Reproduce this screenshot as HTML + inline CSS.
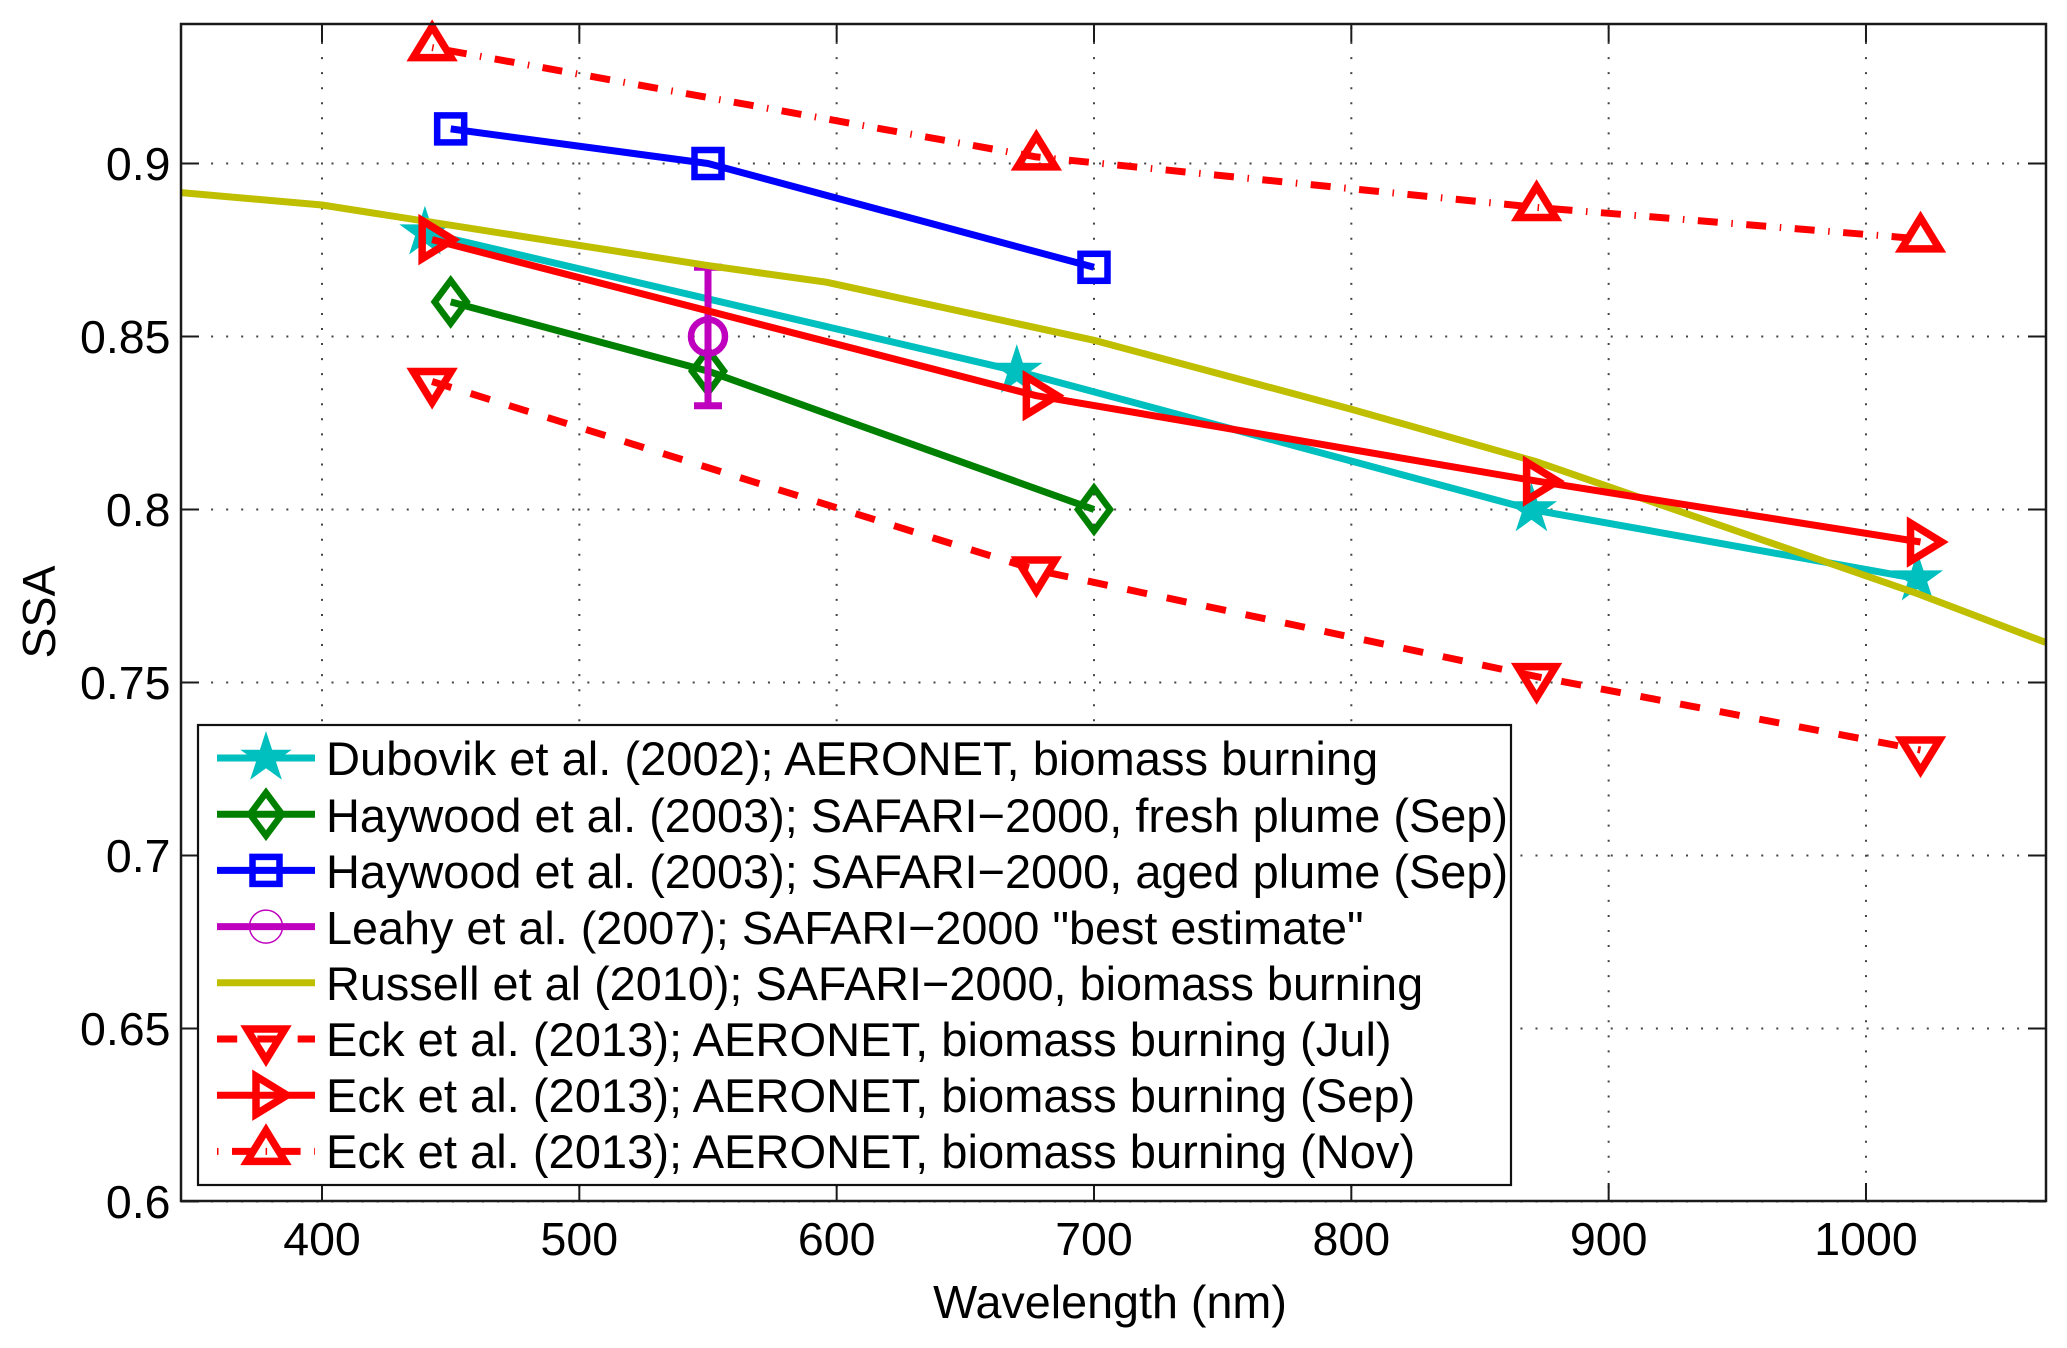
<!DOCTYPE html>
<html>
<head>
<meta charset="utf-8">
<title>SSA vs Wavelength</title>
<style>
html,body{margin:0;padding:0;background:#fff;}
svg{display:block;}
text{font-family:"Liberation Sans",Arial,sans-serif;fill:#000;}
</style>
</head>
<body>
<svg id="chart" xmlns="http://www.w3.org/2000/svg" width="2067" height="1348" viewBox="0 0 2067 1348">
  <rect x="181" y="24" width="1865" height="1177" fill="#fff"/>
  <g id="grid"></g>
  <g id="marks"></g>
  <g id="axes"></g>
  <g id="legend">
    <rect x="198" y="725" width="1313" height="460" fill="#fff" stroke="#111" stroke-width="2.2"/>
    <g>
      <text font-size="47.1" x="326" y="775">Dubovik et al. (2002); AERONET, biomass burning</text>
      <text font-size="46.9" x="326" y="832">Haywood et al. (2003); SAFARI−2000, fresh plume (Sep)</text>
      <text font-size="46.9" x="326" y="888">Haywood et al. (2003); SAFARI−2000, aged plume (Sep)</text>
      <text font-size="46.76" x="326" y="944">Leahy et al. (2007); SAFARI−2000 "best estimate"</text>
      <text font-size="46.83" x="326" y="1000">Russell et al (2010); SAFARI−2000, biomass burning</text>
      <text font-size="47.11" x="326" y="1056">Eck et al. (2013); AERONET, biomass burning (Jul)</text>
      <text font-size="47.11" x="326" y="1112">Eck et al. (2013); AERONET, biomass burning (Sep)</text>
      <text font-size="47.11" x="326" y="1168">Eck et al. (2013); AERONET, biomass burning (Nov)</text>
    </g>
  </g>
  <text x="1110" y="1318" font-size="46.7" text-anchor="middle">Wavelength (nm)</text>
  <text transform="translate(55,612) rotate(-90)" font-size="46.5" text-anchor="middle">SSA</text>
</svg>
<script>
// ---- chart data ----
const xTicks = [400, 500, 600, 700, 800, 900, 1000];
const yTicks = [0.6, 0.65, 0.7, 0.75, 0.8, 0.85, 0.9];
const yTickLabels = ['0.6', '0.65', '0.7', '0.75', '0.8', '0.85', '0.9'];

const dubovikX = [440, 670, 870, 1020];
const dubovikY = [0.88, 0.84, 0.80, 0.78];
const haywoodFreshX = [450, 550, 700];
const haywoodFreshY = [0.86, 0.84, 0.80];
const haywoodAgedX = [450, 550, 700];
const haywoodAgedY = [0.91, 0.90, 0.87];
const leahyX = [550];
const leahyY = [0.85];
const leahyLow = [0.83];
const leahyHigh = [0.87];
const russellX = [345.3, 400, 550, 596, 700, 800, 872, 1020, 1069.8];
const russellY = [0.8916, 0.888, 0.8705, 0.8657, 0.8489, 0.829, 0.8138, 0.7757, 0.7616];
const eckX = [442.8, 677.6, 872, 1021.2];
const eckJulY = [0.837, 0.7825, 0.7517, 0.7305];
const eckSepY = [0.878, 0.8329, 0.8082, 0.7906];
const eckNovY = [0.9335, 0.9019, 0.8873, 0.8782];

// ---- axis functions ----
const plotLeft = 181, plotRight = 2046, plotTop = 24, plotBottom = 1201;
function xScale(w) { return 322 + (w - 400) * 2.5733; }
function yScale(v) { return 163.5 + (0.9 - v) * 3460; }

const NS = 'http://www.w3.org/2000/svg';
function make(tag, attrs, parent) {
  const el = document.createElementNS(NS, tag);
  for (const k in attrs) el.setAttribute(k, attrs[k]);
  parent.appendChild(el);
  return el;
}
const gridG = document.getElementById('grid');
const axesG = document.getElementById('axes');
const marksG = document.getElementById('marks');
const legendG = document.getElementById('legend');

// ---- grid, ticks, labels ----
const AX = '#1a1a1a';
const dotStyle = { stroke: '#444', 'stroke-width': 2, 'stroke-dasharray': '2 13.05', fill: 'none' };
xTicks.forEach(function (t) {
  const x = xScale(t);
  const g = make('line', Object.assign({ x1: x, x2: x, y1: 27, y2: plotBottom }, dotStyle), gridG);
  
  
  const a = make('line', { x1: x, x2: x, y1: plotTop, y2: plotTop + 18, stroke: AX, 'stroke-width': 2 }, axesG);
  
  
  const b = make('line', { x1: x, x2: x, y1: plotBottom, y2: plotBottom - 18, stroke: AX, 'stroke-width': 2 }, axesG);
  
  
  const l = make('text', { x: x, y: 1255, 'font-size': 46.5, 'text-anchor': 'middle' }, axesG);
  l.textContent = String(t);
  
  
});
yTicks.forEach(function (t, i) {
  const y = yScale(t);
  const g = make('line', Object.assign({ x1: plotLeft, x2: plotRight, y1: y, y2: y }, dotStyle), gridG);
  
  
  const a = make('line', { x1: plotLeft, x2: plotLeft + 18, y1: y, y2: y, stroke: AX, 'stroke-width': 2 }, axesG);
  
  
  const b = make('line', { x1: plotRight, x2: plotRight - 18, y1: y, y2: y, stroke: AX, 'stroke-width': 2 }, axesG);
  
  
  const l = make('text', { x: 170.5, y: y + 16.5, 'font-size': 46.5, 'text-anchor': 'end' }, axesG);
  l.textContent = yTickLabels[i];
  
  
});
const frame = make('rect', { x: plotLeft, y: plotTop, width: plotRight - plotLeft, height: plotBottom - plotTop, fill: 'none', stroke: AX, 'stroke-width': 2.5 }, axesG);



// ---- marker drawing ----
function marker(kind, cx, cy, color, parent) {
  const sw = 7.5;
  const base = { fill: 'none', stroke: color, 'stroke-width': sw, 'stroke-miterlimit': 12 };
  if (kind === 'star') {
    const pts = [];
    for (let i = 0; i < 10; i++) {
      const r = i % 2 === 0 ? 27 : 10.3;
      const a = -Math.PI / 2 + i * Math.PI / 5;
      pts.push((cx + r * Math.cos(a)).toFixed(1) + ',' + (cy + r * Math.sin(a)).toFixed(1));
    }
    return make('polygon', { points: pts.join(' '), fill: color, stroke: 'none' }, parent);
  }
  if (kind === 'diamond') {
    return make('polygon', Object.assign({}, base, { 'stroke-width': 6.5, points: [cx, cy - 21.5, cx + 16, cy, cx, cy + 21.5, cx - 16, cy].join(' ') }), parent);
  }
  if (kind === 'square') {
    return make('rect', Object.assign({}, base, { 'stroke-width': 6.5, x: cx - 13.5, y: cy - 13.5, width: 27, height: 27 }), parent);
  }
  if (kind === 'circle') {
    return make('circle', Object.assign({}, base, { 'stroke-width': 6.5, cx: cx, cy: cy, r: 17 }), parent);
  }
  if (kind === 'circle-thin') {
    return make('circle', Object.assign({}, base, { cx: cx, cy: cy, r: 16.5, 'stroke-width': 1.5 }), parent);
  }
  if (kind === 'down') {
    return make('polygon', Object.assign({}, base, { points: [cx - 19, cy - 10, cx + 19, cy - 10, cx, cy + 21].join(' ') }), parent);
  }
  if (kind === 'up') {
    return make('polygon', Object.assign({}, base, { points: [cx - 19, cy + 10, cx + 19, cy + 10, cx, cy - 21].join(' ') }), parent);
  }
  if (kind === 'right') {
    return make('polygon', Object.assign({}, base, { points: [cx - 10, cy - 19, cx - 10, cy + 19, cx + 21, cy].join(' ') }), parent);
  }
  return null;
}

// ---- series ----
const DASH_JUL = '20.2 20.13';
const DASH_NOV = '1.5 13.5 20 13.6';

function drawSeries(key, xs, ys, color, kind, dash) {
  const pts = xs.map(function (w, i) { return xScale(w).toFixed(1) + ',' + yScale(ys[i]).toFixed(1); }).join(' ');
  const attrs = { points: pts, fill: 'none', stroke: color, 'stroke-width': 7, 'stroke-linejoin': 'round' };
  if (dash) attrs['stroke-dasharray'] = dash;
  const line = make('polyline', attrs, marksG);
  
  
  if (!kind) return;
  xs.forEach(function (w, i) {
    const m = marker(kind, xScale(w), yScale(ys[i]), color, marksG);
    
    
  });
}

drawSeries('dubovik', dubovikX, dubovikY, '#00BFBF', 'star');
drawSeries('haywood-fresh', haywoodFreshX, haywoodFreshY, '#008000', 'diamond');
drawSeries('haywood-aged', haywoodAgedX, haywoodAgedY, '#0000FF', 'square');

// Leahy error bar
leahyX.forEach(function (w, i) {
  const x = xScale(w);
  const stem = make('line', { x1: x, x2: x, y1: yScale(leahyLow[i]), y2: yScale(leahyHigh[i]), stroke: '#BF00BF', 'stroke-width': 7 }, marksG);
  
  
  const capA = make('line', { x1: x - 14, x2: x + 14, y1: yScale(leahyLow[i]), y2: yScale(leahyLow[i]), stroke: '#BF00BF', 'stroke-width': 7 }, marksG);
  
  
  const capB = make('line', { x1: x - 14, x2: x + 14, y1: yScale(leahyHigh[i]), y2: yScale(leahyHigh[i]), stroke: '#BF00BF', 'stroke-width': 7 }, marksG);
  
  
  const m = marker('circle', x, yScale(leahyY[i]), '#BF00BF', marksG);
  
  
});

drawSeries('russell', russellX, russellY, '#BFBF00', null);
drawSeries('eck-jul', eckX, eckJulY, '#FF0000', 'down', DASH_JUL);
drawSeries('eck-sep', eckX, eckSepY, '#FF0000', 'right');
drawSeries('eck-nov', eckX, eckNovY, '#FF0000', 'up', DASH_NOV);

// ---- legend glyphs ----
const legendColors = ['#00BFBF', '#008000', '#0000FF', '#BF00BF', '#BFBF00', '#FF0000', '#FF0000', '#FF0000'];
const legendKinds = ['star', 'diamond', 'square', 'circle-thin', null, 'down', 'right', 'up'];
const legendDashes = [null, null, null, null, null, DASH_JUL, null, DASH_NOV];
legendColors.forEach(function (color, i) {
  const y = 758 + i * 56.2;
  const attrs = { x1: 217, x2: 315, y1: y, y2: y, stroke: color, 'stroke-width': 7 };
  if (legendDashes[i]) attrs['stroke-dasharray'] = legendDashes[i];
  const l = make('line', attrs, legendG);
  
  
  if (legendKinds[i]) {
    const m = marker(legendKinds[i], 266, y, color, legendG);
    
    
  }
});
</script>
</body>
</html>
